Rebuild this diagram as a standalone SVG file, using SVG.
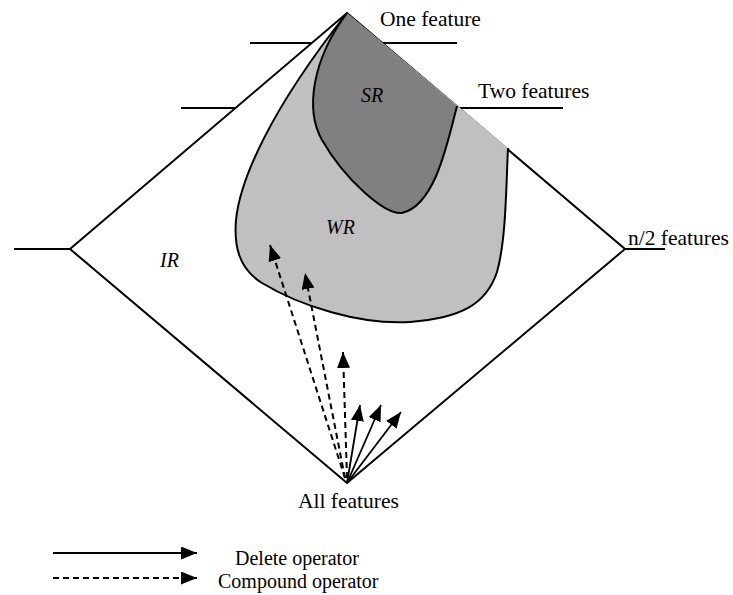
<svg xmlns="http://www.w3.org/2000/svg" width="733" height="595" viewBox="0 0 733 595">
<style>
.ln{stroke:#000;stroke-width:2;fill:none}
.t{font-family:"Liberation Serif","Times New Roman",serif;font-size:21.5px;fill:#000}
.lg{font-family:"Liberation Serif","Times New Roman",serif;font-size:20px;fill:#000}
.it{font-family:"Liberation Serif","Times New Roman",serif;font-size:20px;font-style:italic;fill:#000}
.sol{stroke:#000;stroke-width:1.8;fill:none;marker-end:url(#ah)}
.dash{stroke:#000;stroke-width:2;fill:none;stroke-dasharray:6,4;marker-end:url(#ah)}
</style>
<defs>
<marker id="ah" markerUnits="userSpaceOnUse" markerWidth="17" markerHeight="14" refX="16" refY="6.5" orient="auto">
<path d="M0,0 L16,6.5 L0,13 Z" fill="#000"/>
</marker>
</defs>
<rect width="733" height="595" fill="#fff"/>
<g id="space">
<path class="ln" d="M347,13 L625,249 L347,483 L70,249 Z"/>
<path class="ln" d="M14,249 H70 M625,249 H665 M250,43 H311.8 M382,43 H457 M181,108 H235.5 M459,108 H563"/>
</g>
<g id="WR">
<path d="M347,13 L508,148 C506,190 506,240 497,272 C486,305 460,318 410,322 C360,325 300,306 262,283 C238,268 234,245 236,220 C240,180 270,110 347,13 Z" fill="#c0c0c0"/>
<path class="ln" d="M508,148 C506,190 506,240 497,272 C486,305 460,318 410,322 C360,325 300,306 262,283 C238,268 234,245 236,220 C240,180 270,110 347,13"/>
</g>
<g id="SR">
<path d="M347,13 L457,106 C447,145 435,205 402,213 C385,215 345,180 322,140 C305,110 312,60 347,13 Z" fill="#808080"/>
<path class="ln" d="M457,106 C447,145 435,205 402,213 C385,215 345,180 322,140 C305,110 312,60 347,13"/>
</g>
<g id="labels">
<text class="t" x="380" y="26">One feature</text>
<text class="t" x="478" y="98">Two features</text>
<text class="t" x="628" y="245">n/2 features</text>
<text class="t" x="298" y="508">All features</text>
<text class="it" x="361" y="102">SR</text>
<text class="it" x="326" y="234">WR</text>
<text class="it" x="160" y="267">IR</text>
</g>
<g id="connectors">
<line class="sol" x1="347" y1="483" x2="360" y2="405"/>
<line class="sol" x1="347" y1="483" x2="381" y2="405"/>
<line class="sol" x1="347" y1="483" x2="401" y2="412"/>
<line class="dash" x1="345" y1="478" x2="270" y2="245"/>
<line class="dash" x1="345" y1="478" x2="305" y2="273"/>
<line class="dash" x1="347" y1="478" x2="343" y2="352"/>
</g>
<g id="legend">
<line class="sol" x1="53" y1="553" x2="197" y2="553"/>
<line class="dash" x1="53" y1="578" x2="197" y2="578"/>
<text class="lg" x="235" y="565">Delete operator</text>
<text class="lg" x="218" y="588">Compound operator</text>
</g>
</svg>
